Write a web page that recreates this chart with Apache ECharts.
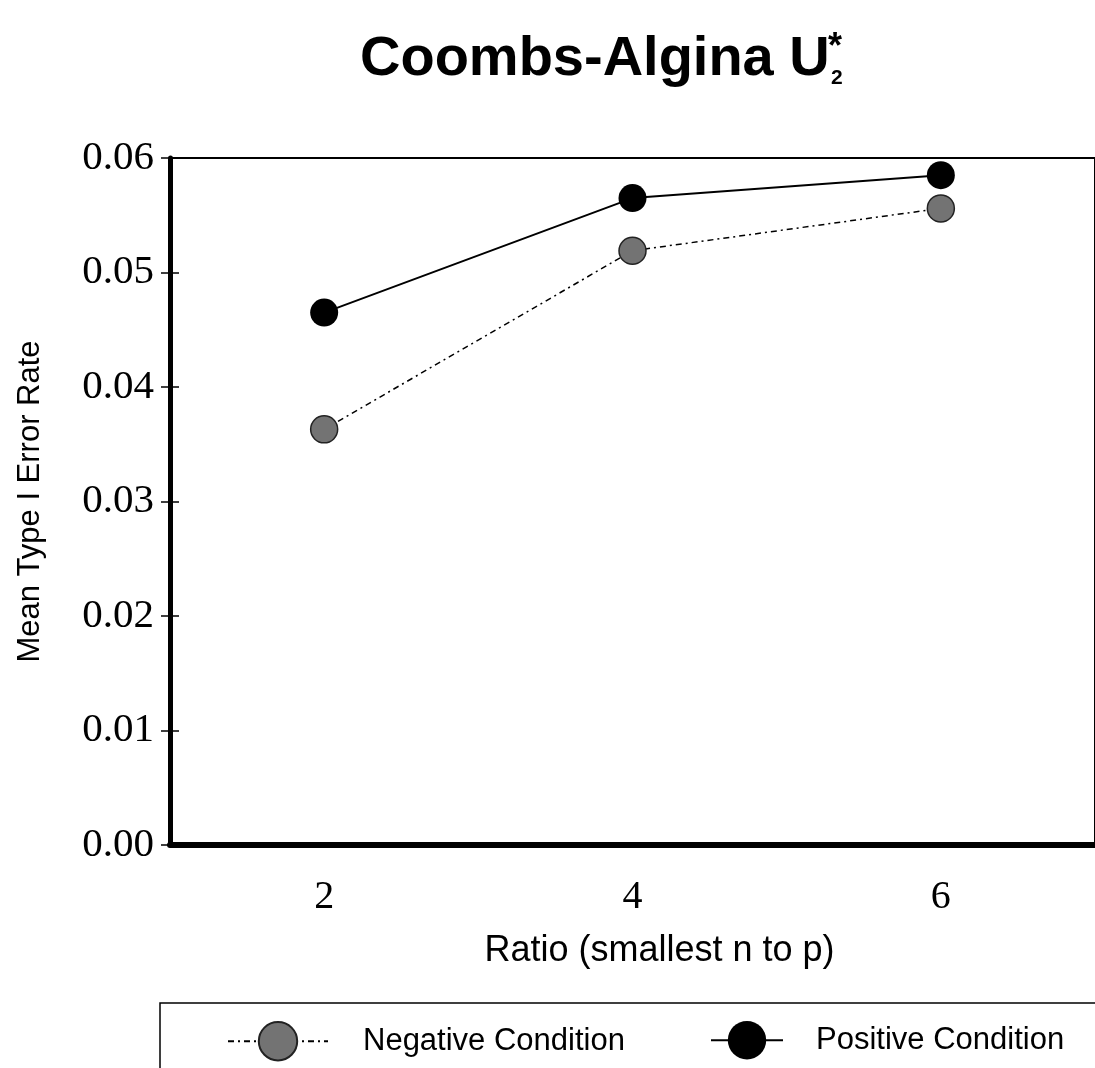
<!DOCTYPE html>
<html>
<head>
<meta charset="utf-8">
<script src="https://cdn.jsdelivr.net/npm/echarts@6/dist/echarts.min.js"></script>
<style>
  html, body { margin: 0; padding: 0; background: #fff; }
  #chart { width: 1095px; height: 1068px; }
</style>
</head>
<body>
<div id="chart"></div>
<script>
// Mean Type I error rate by ratio of smallest group n to number of variables p
const ratios = [2, 4, 6];
const negativeCondition = [0.0363, 0.0519, 0.0556];
const positiveCondition = [0.0465, 0.0565, 0.0585];
const xTickValues = [2, 4, 6];
const seriesNames = ['Negative Condition', 'Positive Condition'];

const chart = echarts.init(document.getElementById('chart'), null, { renderer: 'canvas' });
const sans = '"Liberation Sans", Arial, sans-serif';
const serif = '"Liberation Serif", "Times New Roman", serif';

const legendText = { fontFamily: sans, fontSize: 31, color: '#000' };

chart.setOption({
  animation: false,
  backgroundColor: '#fff',
  title: {
    text: 'Coombs-Algina U',
    left: 355,
    top: 27,
    textStyle: { fontFamily: sans, fontSize: 56, fontWeight: 'bold', color: '#000' }
  },
  graphic: [
    { type: 'text', left: 828, top: 30, style: { text: '*', font: 'bold 36px ' + sans, fill: '#000' } },
    { type: 'text', left: 831, top: 68, style: { text: '2', font: 'bold 21px ' + sans, fill: '#000' } },
    { type: 'rect', shape: { x: 160, y: 1003, width: 1000, height: 120 },
      style: { fill: 'none', stroke: '#000', lineWidth: 1.5 }, z: -1 }
  ],
  grid: {
    left: 170, top: 158, right: -14, bottom: 223,
    show: true, borderColor: '#000', borderWidth: 2, backgroundColor: 'transparent'
  },
  legend: [{
    data: [seriesNames[0]],
    left: 222,
    top: 1016,
    itemWidth: 100,
    itemHeight: 48,
    textStyle: Object.assign({ padding: [0, 0, 0, 30] }, legendText)
  }, {
    data: [seriesNames[1]],
    left: 705,
    top: 1016,
    itemWidth: 72,
    itemHeight: 48,
    textStyle: Object.assign({ padding: [0, 0, 0, 28] }, legendText)
  }],
  xAxis: {
    type: 'value',
    min: 1, max: 7, interval: 1,
    name: 'Ratio (smallest n to p)',
    nameLocation: 'middle',
    nameGap: 88,
    nameTextStyle: { fontFamily: sans, fontSize: 36, color: '#000', padding: [0, 0, 0, 54] },
    axisLine: { show: true, lineStyle: { color: '#000', width: 6 } },
    axisTick: { show: false },
    splitLine: { show: false },
    axisLabel: {
      customValues: xTickValues,
      margin: 32,
      fontFamily: serif, fontSize: 40, color: '#000'
    }
  },
  yAxis: [{
    type: 'value',
    min: 0, max: 0.06, interval: 0.01,
    name: 'Mean Type I Error Rate',
    nameLocation: 'middle',
    nameGap: 124,
    nameRotate: 90,
    nameTextStyle: { fontFamily: sans, fontSize: 31, color: '#000' },
    axisLine: { show: true, lineStyle: { color: '#000', width: 5 } },
    axisTick: { show: true, length: 9, lineStyle: { color: '#000', width: 1.5 } },
    splitLine: { show: false },
    axisLabel: {
      margin: 16,
      fontFamily: serif, fontSize: 41, color: '#000',
      formatter: v => v.toFixed(2)
    }
  }, {
    type: 'value',
    position: 'left',
    min: 0, max: 0.06, interval: 0.01,
    axisLine: { show: false },
    axisTick: { show: true, inside: true, length: 9, lineStyle: { color: '#000', width: 1.5 } },
    axisLabel: { show: false },
    splitLine: { show: false }
  }],
  series: [{
    name: seriesNames[0],
    type: 'line',
    data: ratios.map((r, i) => [r, negativeCondition[i]]),
    symbol: 'circle',
    symbolSize: 27,
    lineStyle: { color: '#000', width: 1.5, type: [6, 4, 2, 4] },
    itemStyle: { color: '#737373', borderColor: '#222', borderWidth: 1.5 },
    z: 3
  }, {
    name: seriesNames[1],
    type: 'line',
    data: ratios.map((r, i) => [r, positiveCondition[i]]),
    symbol: 'circle',
    symbolSize: 28,
    lineStyle: { color: '#000', width: 2 },
    itemStyle: { color: '#000' },
    z: 4
  }]
});
</script>
</body>
</html>
